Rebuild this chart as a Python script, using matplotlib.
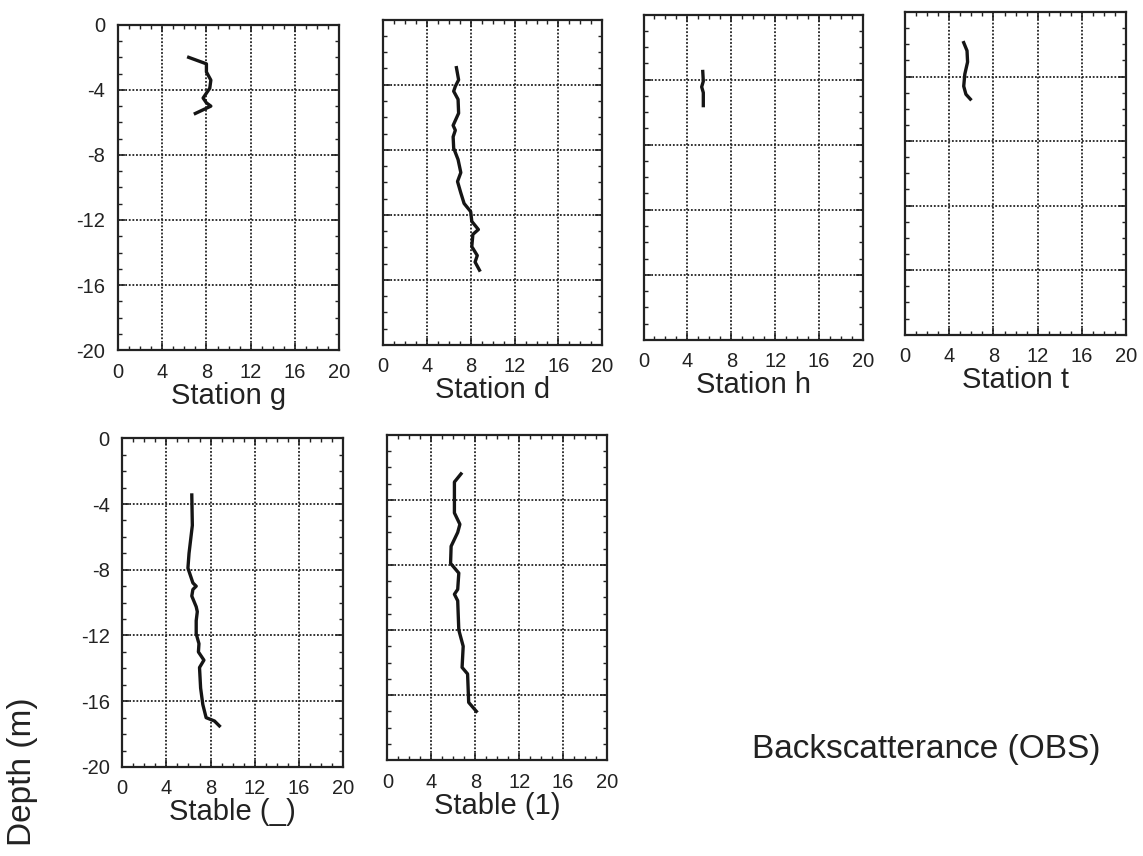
import matplotlib
matplotlib.use("Agg")
import matplotlib.pyplot as plt
from matplotlib.ticker import MultipleLocator

plt.rcParams['font.family'] = ['Liberation Sans', 'DejaVu Sans']
plt.rcParams['axes.unicode_minus'] = False

# backscatterance (OBS) vs depth (m)
g_obs = [6.4, 8.0, 8.0, 8.4, 8.3, 7.9, 7.7, 8.0, 8.4, 7.0]
g_depth = [-2.0, -2.4, -2.9, -3.4, -3.9, -4.3, -4.5, -4.8, -5.0, -5.45]

d_obs = [6.7, 6.9, 6.6, 6.45, 6.85, 6.9, 6.4, 6.6, 6.4, 6.45, 6.85, 7.1,
         6.8, 7.1, 7.4, 8.0, 8.1, 8.7, 8.2, 8.1, 8.6, 8.4, 8.8]
d_depth = [-2.95, -3.7, -4.1, -4.4, -4.9, -5.75, -6.5, -6.8, -7.2, -7.9, -8.6,
           -9.4, -9.95, -10.65, -11.3, -11.8, -12.4, -12.9, -13.2, -13.95,
           -14.5, -14.9, -15.4]

h_obs = [5.4, 5.45, 5.3, 5.45, 5.45]
h_depth = [-3.5, -4.1, -4.45, -4.8, -5.6]

t_obs = [5.3, 5.6, 5.65, 5.4, 5.3, 5.5, 5.9]
t_depth = [-1.9, -2.4, -3.1, -3.85, -4.6, -5.1, -5.4]

s0_obs = [6.3, 6.35, 6.05, 5.95, 6.4, 6.7, 6.4, 6.3, 6.7, 6.8, 6.7, 6.7,
          6.95, 6.9, 7.4, 7.0, 7.1, 7.3, 7.6, 8.35, 8.8]
s0_depth = [-3.45, -5.3, -7.0, -7.9, -8.8, -9.0, -9.2, -9.6, -10.25, -10.55,
            -11.1, -11.9, -12.5, -13.0, -13.5, -13.95, -15.2, -16.2, -17.0,
            -17.2, -17.5]

s1_obs = [6.7, 6.4, 6.1, 6.1, 6.6, 6.4, 5.8, 5.75, 6.5, 6.4, 6.1, 6.4, 6.5,
          6.9, 6.8, 7.3, 7.4, 8.1]
s1_depth = [-2.4, -2.65, -2.9, -4.8, -5.5, -6.0, -6.85, -7.9, -8.5, -9.5,
            -9.8, -10.2, -12.0, -13.0, -14.3, -14.7, -16.45, -17.0]

names = ['Station g', 'Station d', 'Station h', 'Station t',
         'Stable (_)', 'Stable (1)']
series = [(g_obs, g_depth), (d_obs, d_depth), (h_obs, h_depth),
          (t_obs, t_depth), (s0_obs, s0_depth), (s1_obs, s1_depth)]
x_ticks = [0, 4, 8, 12, 16, 20]
y_ticks = [0, -4, -8, -12, -16, -20]

# axes rectangles in figure fractions
rects = [[0.103, 0.591, 0.194, 0.380],
         [0.335, 0.597, 0.192, 0.380],
         [0.563, 0.603, 0.192, 0.380],
         [0.792, 0.609, 0.193, 0.377],
         [0.107, 0.104, 0.193, 0.384],
         [0.339, 0.112, 0.192, 0.380]]

fig = plt.figure(figsize=(11.43, 8.56), dpi=100)

for i, (name, (obs, depth), r) in enumerate(zip(names, series, rects)):
    ax = fig.add_axes(r)
    ax.plot(obs, depth, color='#151515', lw=2.4, solid_joinstyle='round')
    ax.set_xlim(0, 20)
    ax.set_ylim(-20, 0)
    ax.set_xticks(x_ticks)
    ax.set_yticks(y_ticks)
    ax.xaxis.set_minor_locator(MultipleLocator(1))
    ax.yaxis.set_minor_locator(MultipleLocator(1))
    ax.tick_params(which='both', direction='in', top=True, right=True,
                   color='#222222')
    ax.tick_params(which='major', length=5, width=1.2, labelsize=14.5, pad=9,
                   labelcolor='#222222')
    ax.tick_params(which='minor', length=3, width=1.0)
    if i not in (0, 4):
        ax.tick_params(axis='y', labelleft=False)
    ax.grid(True, which='major', color='#222222', ls=(0, (1, 1)), lw=1.3)
    for s in ax.spines.values():
        s.set_linewidth(1.6)
        s.set_color('#222222')
    ax.set_xlabel(name, fontsize=21, labelpad=0, color='#222222')

fig.text(0.810, 0.124, 'Backscatterance (OBS)', fontsize=24,
         ha='center', va='center', color='#222222')
fig.text(0.020, 0.098, 'Depth (m)', fontsize=24, rotation=90,
         ha='center', va='center', color='#222222')

fig.savefig('out.png', dpi=100, facecolor='white')
